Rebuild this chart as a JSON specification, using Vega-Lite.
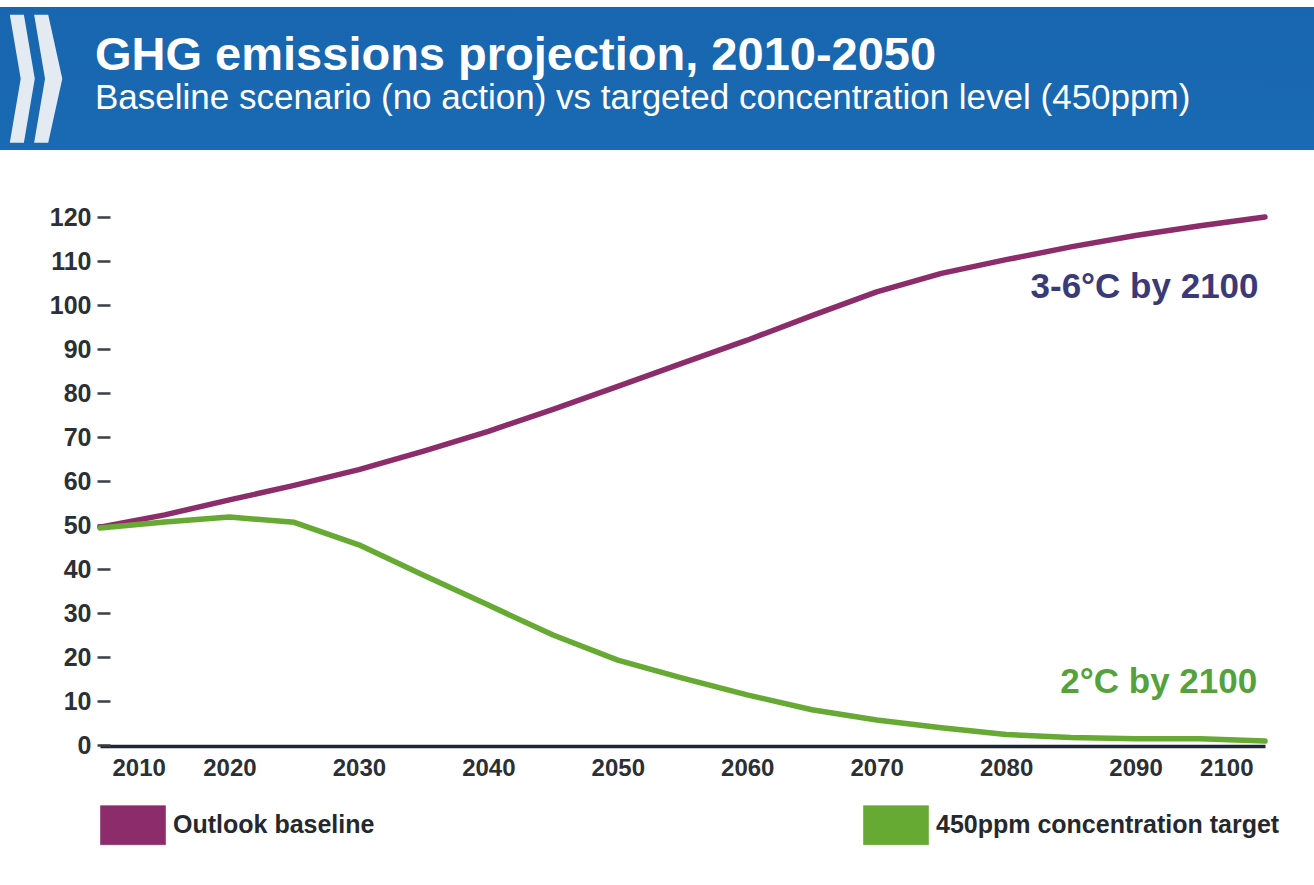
{
  "$schema": "https://vega.github.io/schema/vega-lite/v6.json",
  "width": 1314,
  "height": 885,
  "autosize": {"type": "none"},
  "padding": 0,
  "background": "white",
  "view": {
    "stroke": null,
    "fill": {
      "gradient": "linear", "x1": 0, "y1": 0, "x2": 0, "y2": 1,
      "stops": [
        {"offset": 0, "color": "#ffffff"},
        {"offset": 0.008, "color": "#ffffff"},
        {"offset": 0.0081, "color": "#1866b0"},
        {"offset": 0.1690, "color": "#1a69b3"},
        {"offset": 0.1695, "color": "#ffffff"},
        {"offset": 1, "color": "#ffffff"}
      ]
    }
  },
  "title": {
    "text": "GHG emissions projection, 2010-2050",
    "subtitle": "Baseline scenario (no action) vs targeted concentration level (450ppm)",
    "anchor": "start",
    "frame": "group",
    "orient": "top",
    "offset": -117,
    "dx": 95,
    "color": "white",
    "subtitleColor": "white",
    "font": "Liberation Sans",
    "fontSize": 47,
    "fontWeight": "bold",
    "subtitleFont": "Liberation Sans",
    "subtitleFontSize": 35,
    "subtitlePadding": 1
  },
  "datasets": {
    "emissions": [
      {"year": 2010, "value": 49.5, "series": "Outlook baseline"},
      {"year": 2015, "value": 52.3, "series": "Outlook baseline"},
      {"year": 2020, "value": 55.7, "series": "Outlook baseline"},
      {"year": 2025, "value": 59.0, "series": "Outlook baseline"},
      {"year": 2030, "value": 62.6, "series": "Outlook baseline"},
      {"year": 2035, "value": 66.8, "series": "Outlook baseline"},
      {"year": 2040, "value": 71.3, "series": "Outlook baseline"},
      {"year": 2045, "value": 76.3, "series": "Outlook baseline"},
      {"year": 2050, "value": 81.5, "series": "Outlook baseline"},
      {"year": 2055, "value": 86.8, "series": "Outlook baseline"},
      {"year": 2060, "value": 92.0, "series": "Outlook baseline"},
      {"year": 2065, "value": 97.6, "series": "Outlook baseline"},
      {"year": 2070, "value": 103.0, "series": "Outlook baseline"},
      {"year": 2075, "value": 107.2, "series": "Outlook baseline"},
      {"year": 2080, "value": 110.3, "series": "Outlook baseline"},
      {"year": 2085, "value": 113.2, "series": "Outlook baseline"},
      {"year": 2090, "value": 115.8, "series": "Outlook baseline"},
      {"year": 2095, "value": 118.0, "series": "Outlook baseline"},
      {"year": 2100, "value": 120.0, "series": "Outlook baseline"},
      {"year": 2010, "value": 49.3, "series": "450ppm concentration target"},
      {"year": 2015, "value": 50.7, "series": "450ppm concentration target"},
      {"year": 2020, "value": 51.8, "series": "450ppm concentration target"},
      {"year": 2025, "value": 50.6, "series": "450ppm concentration target"},
      {"year": 2030, "value": 45.5, "series": "450ppm concentration target"},
      {"year": 2035, "value": 38.6, "series": "450ppm concentration target"},
      {"year": 2040, "value": 31.8, "series": "450ppm concentration target"},
      {"year": 2045, "value": 25.0, "series": "450ppm concentration target"},
      {"year": 2050, "value": 19.3, "series": "450ppm concentration target"},
      {"year": 2055, "value": 15.2, "series": "450ppm concentration target"},
      {"year": 2060, "value": 11.4, "series": "450ppm concentration target"},
      {"year": 2065, "value": 8.0, "series": "450ppm concentration target"},
      {"year": 2070, "value": 5.7, "series": "450ppm concentration target"},
      {"year": 2075, "value": 3.9, "series": "450ppm concentration target"},
      {"year": 2080, "value": 2.4, "series": "450ppm concentration target"},
      {"year": 2085, "value": 1.7, "series": "450ppm concentration target"},
      {"year": 2090, "value": 1.4, "series": "450ppm concentration target"},
      {"year": 2095, "value": 1.4, "series": "450ppm concentration target"},
      {"year": 2100, "value": 0.9, "series": "450ppm concentration target"}
    ],
    "labels": [
      {"label": "3-6°C by 2100", "year": 2099.5, "value": 101.6},
      {"label": "2°C by 2100", "year": 2099.4, "value": 11.8}
    ],
    "logo": [
      {"name": "chevrons", "year": 2005.06, "value": 151.4}
    ]
  },
  "layer": [
    {
      "data": {"name": "logo"},
      "mark": {
        "type": "point",
        "filled": true,
        "shape": "M-0.41,-1 L-0.19,-1 L-0.02,0 L-0.19,1 L-0.41,1 L-0.24,0 Z M-0.03,-1 L0.19,-1 L0.41,0 L0.19,1 L-0.03,1 L0.14,0 Z",
        "size": 16384,
        "fill": "#e4eaf2",
        "strokeWidth": 0,
        "opacity": 1
      },
      "encoding": {
        "x": {"field": "year", "type": "quantitative"},
        "y": {"field": "value", "type": "quantitative"}
      }
    },
    {
      "data": {"name": "emissions"},
      "mark": {"type": "line", "strokeWidth": 5.5, "strokeCap": "round", "strokeJoin": "round"},
      "encoding": {
        "x": {
          "field": "year", "type": "quantitative",
          "scale": {"domain": [2010, 2100], "range": [100, 1265], "nice": false, "zero": false},
          "axis": {
            "title": null,
            "values": [2010, 2020, 2030, 2040, 2050, 2060, 2070, 2080, 2090, 2100],
            "format": "d",
            "offset": -139,
            "grid": false,
            "ticks": false,
            "domainColor": "#1d2633",
            "domainWidth": 3.5,
            "labelFont": "Liberation Sans",
            "labelFontSize": 24,
            "labelFontWeight": "bold",
            "labelColor": "#2b2f36",
            "labelPadding": 10,
            "labelFlush": true,
            "labelFlushOffset": -12
          }
        },
        "y": {
          "field": "value", "type": "quantitative",
          "scale": {"domain": [0, 120], "range": [745, 217], "nice": false},
          "axis": {
            "title": null,
            "values": [0, 10, 20, 30, 40, 50, 60, 70, 80, 90, 100, 110, 120],
            "offset": -110,
            "grid": false,
            "domain": false,
            "tickSize": 13,
            "tickWidth": 2.5,
            "tickColor": "#3a3f47",
            "labelFont": "Liberation Sans",
            "labelFontSize": 25,
            "labelFontWeight": "bold",
            "labelColor": "#2b2f36",
            "labelPadding": 6
          }
        },
        "color": {
          "field": "series", "type": "nominal",
          "scale": {
            "domain": ["Outlook baseline", "450ppm concentration target"],
            "range": ["#8c2c6b", "#66a933"]
          },
          "legend": {
            "title": null,
            "orient": "none",
            "legendX": 100,
            "legendY": 792,
            "direction": "horizontal",
            "columns": 2,
            "columnPadding": 487,
            "padding": 0,
            "symbolType": "M-1,-0.6 L1,-0.6 L1,0.6 L-1,0.6 Z",
            "symbolSize": 4225,
            "symbolStrokeWidth": 0,
            "labelFont": "Liberation Sans",
            "labelFontSize": 25,
            "labelFontWeight": "bold",
            "labelColor": "#25292f",
            "labelOffset": 7,
            "labelLimit": 600,
            "encode": {
              "symbols": {
                "update": {
                  "fill": {"scale": "color", "field": "value"},
                  "stroke": {"value": "#5a5a5a"},
                  "strokeWidth": {"value": 0.6},
                  "opacity": {"value": 1},
                  "fillOpacity": {"value": 1}
                }
              }
            }
          }
        }
      }
    },
    {
      "data": {"name": "labels"},
      "mark": {"type": "text", "align": "right", "baseline": "alphabetic", "font": "Liberation Sans", "fontSize": 35, "fontWeight": "bold"},
      "encoding": {
        "x": {"field": "year", "type": "quantitative"},
        "y": {"field": "value", "type": "quantitative"},
        "text": {"field": "label"},
        "fill": {
          "field": "label", "type": "nominal",
          "scale": {"domain": ["3-6°C by 2100", "2°C by 2100"], "range": ["#3b3a78", "#55a23c"]},
          "legend": null
        }
      }
    }
  ]
}
